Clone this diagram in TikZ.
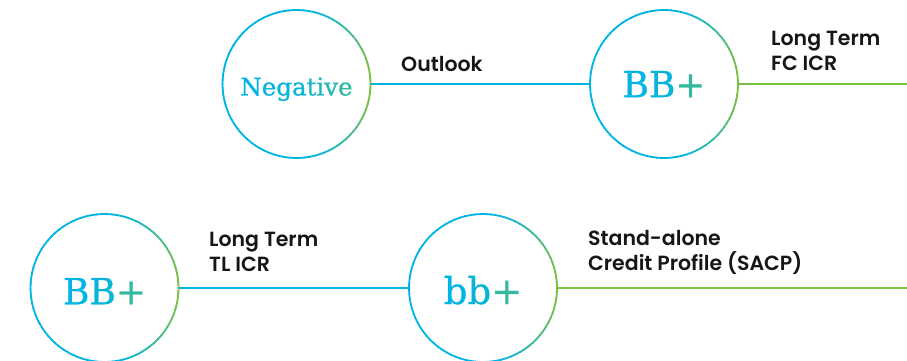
\documentclass[tikz,border=0pt]{standalone}
\usepackage{fontspec}
\newfontfamily\labfont{Poppins SemiBold}
\newfontfamily\slabfont{DejaVu Serif}[FakeBold=0.8]
\definecolor{spcyan}{RGB}{0,180,228}
\definecolor{spgreen}{RGB}{122,193,67}
\definecolor{labtext}{RGB}{22,22,22}
\newcommand\gc[2]{\textcolor{spgreen!#1!spcyan}{#2}}
\newcommand\gradring[1]{%
  \foreach \a in {0,4,...,356}{%
    \pgfmathsetmacro\gf{100*max(0,cos(\a+2))^2}%
    \draw[ringline, draw=spgreen!\gf!spcyan] ([shift={(\a:74pt)}]#1.center)
      arc[start angle=\a, end angle=\a+4.6, radius=74pt];
  }}
\tikzset{
  ring/.style={circle, minimum size=148pt, inner sep=0pt, text depth=0pt, font=\slabfont},
  ringline/.style={line width=1.8pt},
  cyanline/.style={line width=1.8pt, draw=spcyan},
  greenline/.style={line width=1.8pt, draw=spgreen},
  lab/.style={inner sep=0pt, align=left, text=labtext, font=\labfont\fontsize{20.5}{25}\selectfont}
}
\begin{document}
\begin{tikzpicture}[x=1pt, y=-1pt]
\useasboundingbox (0,0) rectangle (907,361);
% top row
\node[ring, text height=23pt, font=\slabfont\fontsize{24.5}{28}\selectfont] (neg) at (296.5,84)
  {\gc{0}{N}\gc{3}{e}\gc{6}{g}\gc{10}{a}\gc{16}{t}\gc{22}{i}\gc{30}{v}\gc{40}{e}};
\node[ring, text height=26.4pt, font=\slabfont\fontsize{36}{40}\selectfont] (fc) at (664,84)
  {\gc{0}{B}\gc{6}{B}\gc{42}{+}};
\coordinate (e1) at (907,84);
\gradring{neg}
\gradring{fc}
\draw[cyanline] (neg) -- (fc);
\draw[greenline] (fc) -- (e1);
\node[lab, anchor=base west] (l1) at (401,71) {Outlook};
\node[lab, anchor=base west] (l2) at (771,70.7) {Long Term\\FC ICR};
% bottom row
\node[ring, text height=32.6pt, font=\slabfont\fontsize{36}{40}\selectfont] (tl) at (104.5,288)
  {\gc{0}{B}\gc{6}{B}\gc{42}{+}};
\node[ring, text height=32pt, font=\slabfont\fontsize{37}{40}\selectfont] (sacp) at (483,288)
  {\gc{0}{b}\gc{6}{b}\gc{42}{+}};
\coordinate (e2) at (907,288);
\gradring{tl}
\gradring{sacp}
\draw[cyanline] (tl) -- (sacp);
\draw[greenline] (sacp) -- (e2);
\node[lab, anchor=base west] (l3) at (209,271.2) {Long Term\\TL ICR};
\node[lab, anchor=base west] (l4) at (588,270.7) {Stand-alone\\Credit Profile (SACP)};
\end{tikzpicture}
\end{document}
